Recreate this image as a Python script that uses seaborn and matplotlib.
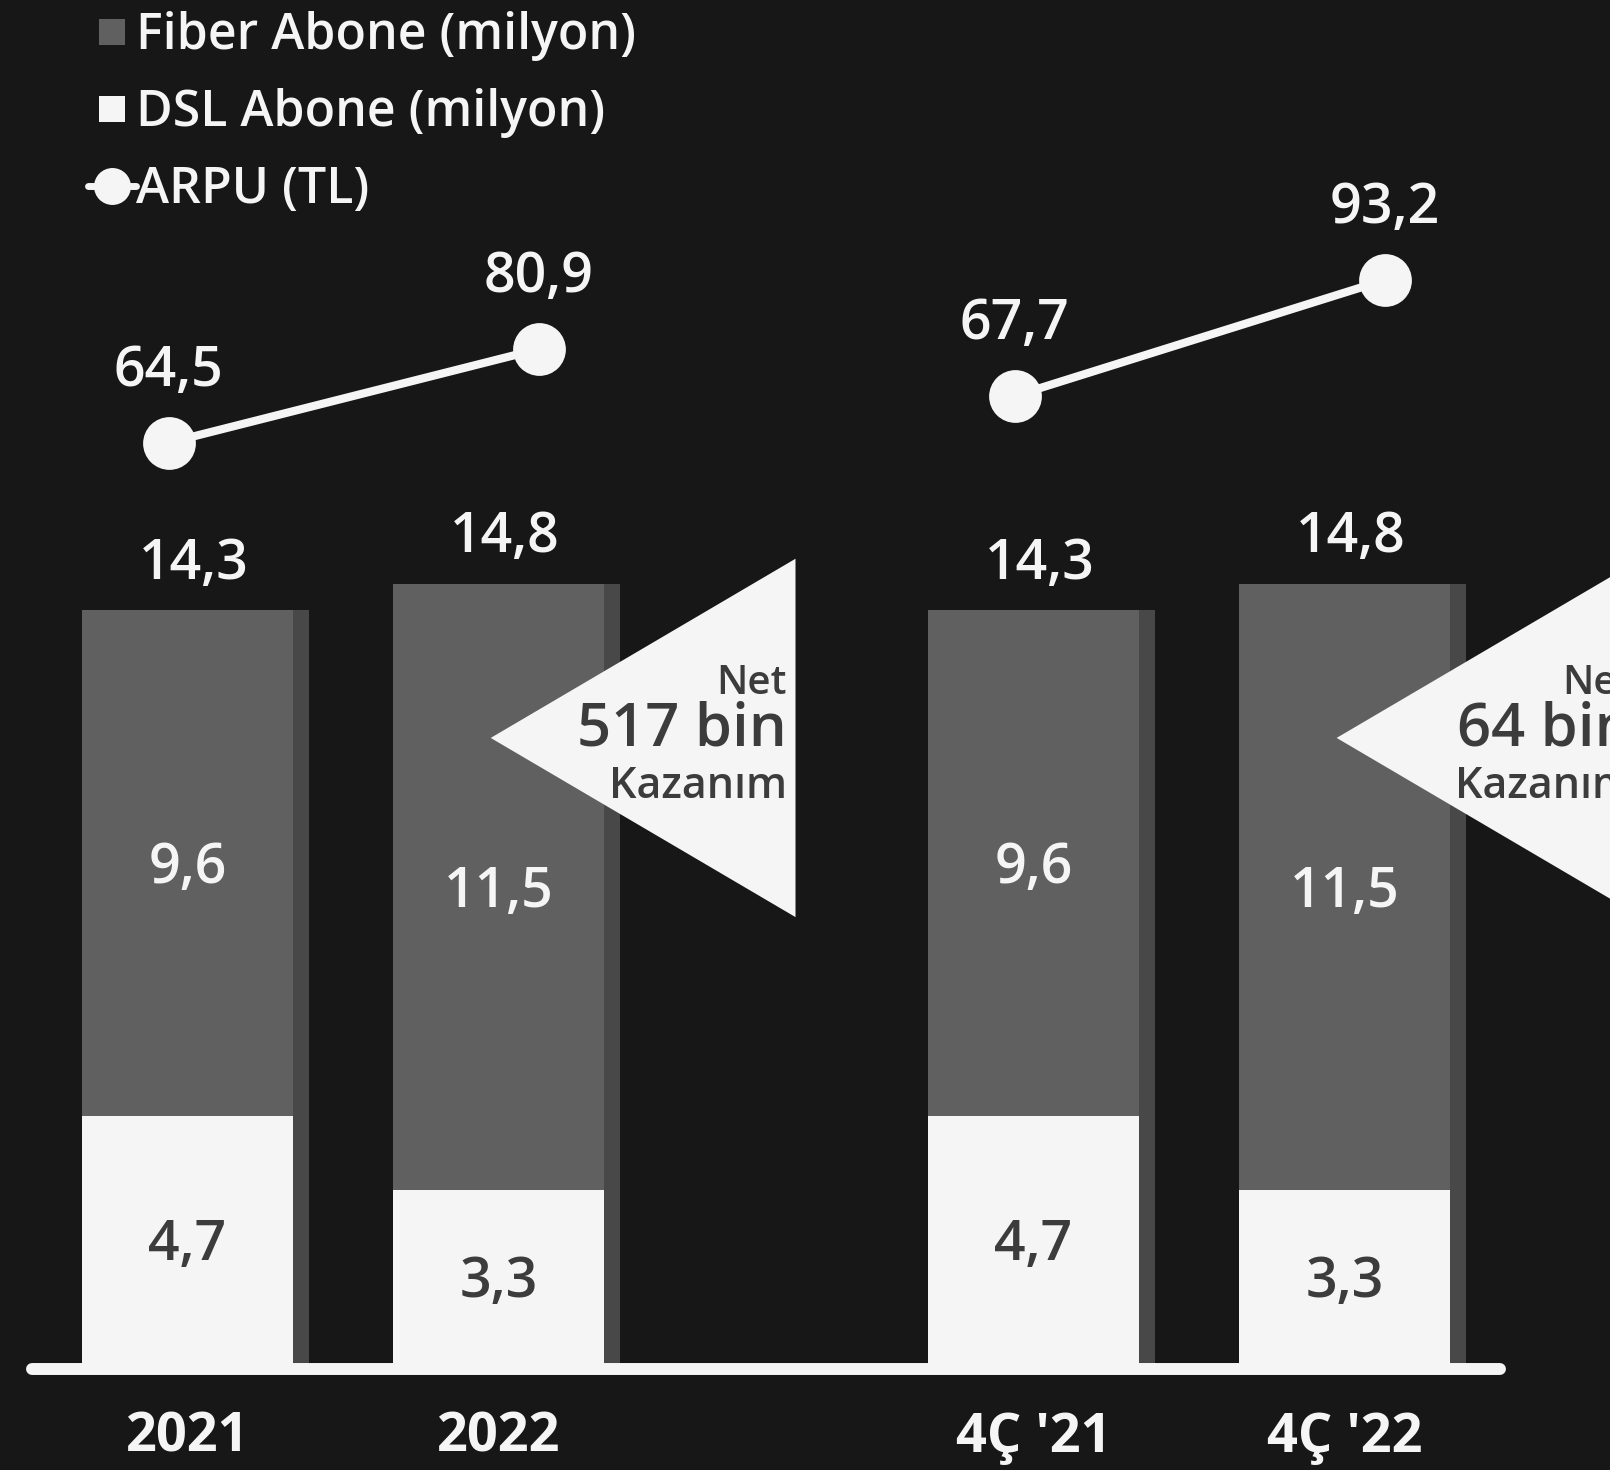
import matplotlib
matplotlib.use("Agg")
import matplotlib.pyplot as plt
import seaborn as sns
import numpy as np
import pandas as pd
from matplotlib.patches import Polygon
from matplotlib.lines import Line2D

# ---------------- data ----------------
categories = ["2021", "2022", "4Ç '21", "4Ç '22"]
fiber = [9.6, 11.5, 9.6, 11.5]
dsl = [4.7, 3.3, 4.7, 3.3]
total = [14.3, 14.8, 14.3, 14.8]
arpu = [64.5, 80.9, 67.7, 93.2]
gain_values = ["517 bin", "64 bin"]
gain_top = "Net"
gain_bottom = "Kazanım"
legend_labels = ["Fiber Abone (milyon)", "DSL Abone (milyon)", "ARPU (TL)"]

# ---------------- layout ----------------
positions = [0.0, 1.0, 2.72, 3.72]
W, H = 1610, 1470
X0, UX = 187.5, 311.0      # px of first bar centre, px per x unit
Y0, UY = 1364.0, 52.7      # px of y=0, px per y unit
BG = "#171717"
C_FIBER = "#606060"
C_STRIP = "#484848"
C_DSL = "#f5f5f5"
C_DARK = "#3c3c3c"
C_TXT = "#f5f5f5"
VAL_FS = 40
HALF_CAP = 0.99 * VAL_FS / 2 / UY   # half cap height in data units


def fmt(v):
    return f"{v:.1f}".replace(".", ",")


def px_x(p):
    return (p - X0) / UX


def px_y(p):
    return (Y0 - p) / UY


sns.set_theme(style="dark")
plt.rcParams["font.family"] = ["Open Sans", "DejaVu Sans"]

fig = plt.figure(figsize=(W / 100, H / 100), dpi=100)
fig.patch.set_facecolor(BG)
ax = fig.add_axes([0, 0, 1, 1])
ax.set_facecolor(BG)

df = pd.DataFrame({
    "pos": positions,
    "strip": [p + 0.365 for p in positions],
    "total": total,
    "dsl": dsl,
})

sns.barplot(data=df, x="strip", y="total", native_scale=True, width=0.05,
            color=C_STRIP, saturation=1, errorbar=None, linewidth=0, ax=ax)
sns.barplot(data=df, x="pos", y="total", native_scale=True, width=0.68,
            color=C_FIBER, saturation=1, errorbar=None, linewidth=0, ax=ax)
sns.barplot(data=df, x="pos", y="dsl", native_scale=True, width=0.68,
            color=C_DSL, saturation=1, errorbar=None, linewidth=0, ax=ax)

ax.set_xlim(px_x(0), px_x(W))
ax.set_ylim(px_y(H), px_y(0))
ax.axis("off")

# segment + total labels
for p, f, d, t in zip(positions, fiber, dsl, total):
    ax.text(p, d + f / 2 - HALF_CAP, fmt(f), ha="center", va="baseline",
            fontsize=VAL_FS, fontweight="semibold", color=C_TXT, zorder=5)
    ax.text(p, d / 2 - HALF_CAP, fmt(d), ha="center", va="baseline",
            fontsize=VAL_FS, fontweight="semibold", color=C_DARK, zorder=5)
    ax.text(p + 0.02, t + 0.6, fmt(t), ha="center", va="baseline",
            fontsize=VAL_FS, fontweight="semibold", color=C_TXT, zorder=5)

# category labels
for p, c in zip(positions, categories):
    ax.text(p, px_y(1452), c, ha="center", va="baseline", fontsize=39,
            fontweight="bold", color=C_TXT)

# baseline
ax.plot([px_x(32), px_x(1500)], [px_y(1369)] * 2, color=C_TXT, lw=8.6,
        solid_capstyle="round", zorder=4)

# gain triangles
for gi, idx in enumerate([1, 3]):
    tip_x = positions[idx] - 0.025
    tip_y = 11.88
    tri = Polygon([[tip_x, tip_y], [tip_x + 0.98, tip_y + 3.4],
                   [tip_x + 0.98, tip_y - 3.4]], closed=True,
                  facecolor=C_DSL, edgecolor="none", zorder=6)
    ax.add_patch(tri)
    rx = tip_x + 0.952
    ax.text(rx, tip_y + 0.835, gain_top, ha="right", va="baseline",
            fontsize=29, fontweight="semibold", color=C_DARK, zorder=7)
    ax.text(rx, tip_y - 0.152, gain_values[gi], ha="right", va="baseline",
            fontsize=43, fontweight="semibold", color=C_DARK, zorder=7)
    ax.text(rx, tip_y - 1.139, gain_bottom, ha="right", va="baseline",
            fontsize=31, fontweight="semibold", color=C_DARK, zorder=7)

# ARPU lines, one scale per group
groups = [(0, 1, (-115.5, 142.05)), (2, 3, (-168.4, 154.75))]
for a, b, lim in groups:
    tw = ax.twinx()
    tw.set_ylim(*lim)
    tw.set_xlim(ax.get_xlim())
    tw.axis("off")
    xs = [positions[a] - 0.06, positions[b] + 0.13]
    ys = [arpu[a], arpu[b]]
    sns.lineplot(x=xs, y=ys, ax=tw, color=C_TXT, linewidth=5.9, marker="o",
                 markersize=38, markeredgewidth=0, zorder=5)
    for x, y in zip(xs, ys):
        tw.annotate(fmt(y), (x, y), xytext=(0, 41), textcoords="offset points",
                    ha="center", va="baseline", fontsize=VAL_FS,
                    fontweight="semibold", color=C_TXT)

# legend
handles = [
    Line2D([], [], marker="s", ls="none", markersize=18.7,
           markerfacecolor=C_FIBER, markeredgewidth=0),
    Line2D([], [], marker="s", ls="none", markersize=18.7,
           markerfacecolor=C_DSL, markeredgewidth=0),
    Line2D([], [], marker="o", color=C_TXT, lw=5, markersize=26.6,
           markeredgewidth=0),
]
fig.legend(handles, legend_labels, loc="upper left",
           bbox_to_anchor=(88 / W, 1 - 11 / H), frameon=False,
           prop={"size": 36, "weight": "semibold"}, labelcolor=C_TXT,
           handlelength=0.95, handletextpad=0.02, labelspacing=0.54,
           borderpad=0, borderaxespad=0)

fig.savefig("out.png", dpi=100, facecolor=BG)
